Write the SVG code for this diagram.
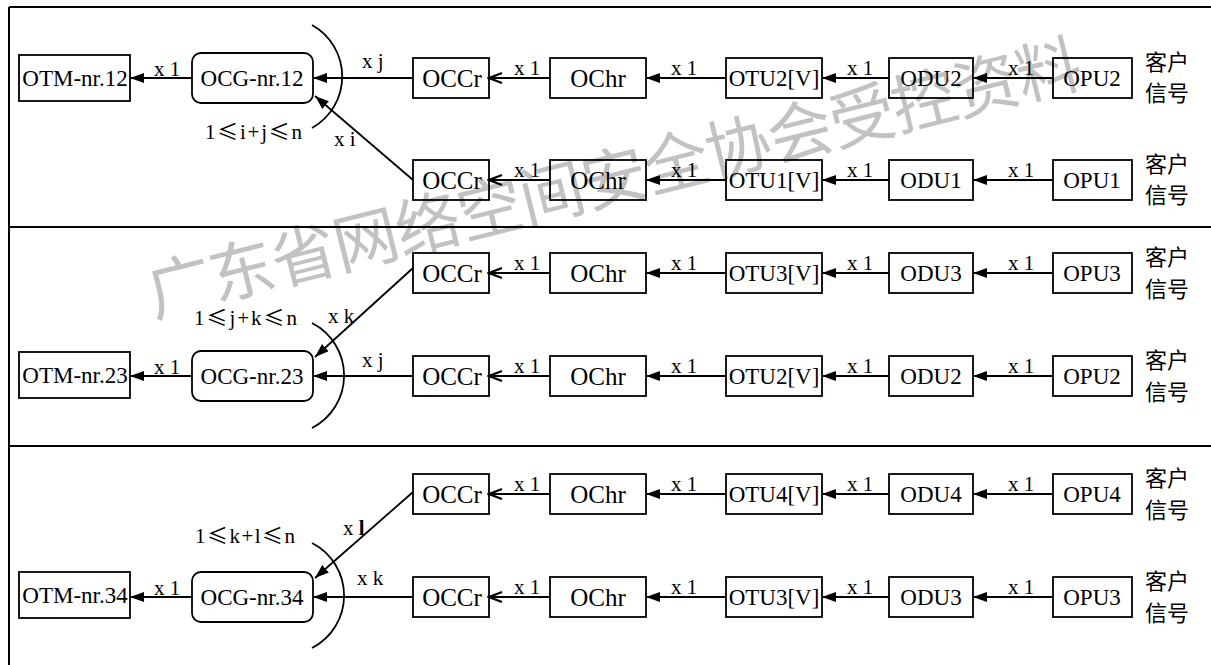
<svg xmlns="http://www.w3.org/2000/svg" width="1211" height="665" viewBox="0 0 1211 665">
<defs>
<marker id="fa" markerUnits="userSpaceOnUse" markerWidth="15" markerHeight="11" refX="14" refY="5" orient="auto"><path d="M0,0 L14,5 L0,10 z" fill="#000"/></marker>
<marker id="oa" markerUnits="userSpaceOnUse" markerWidth="16" markerHeight="13" refX="14" refY="6" orient="auto"><path d="M1,1 L14,6 L1,11" fill="none" stroke="#000" stroke-width="2.2"/></marker>
<style>
.frame{stroke:#000;stroke-width:2;fill:none}
.box{stroke:#000;stroke-width:1.8;fill:none}
.t{font-family:'Liberation Serif','Times New Roman',serif;font-size:23px;fill:#000;text-anchor:middle}
.w{font-size:25px}
.s{font-family:'Liberation Serif','Times New Roman',serif;font-size:21px;fill:#000}
.lb{font-family:'Liberation Serif','Times New Roman',serif;font-size:21px;fill:#000;text-anchor:middle}
.cn{font-family:'Noto Sans CJK SC','Noto Sans',sans-serif;font-size:22px;fill:#000;text-anchor:middle}
.le{font-family:'Noto Sans CJK SC',sans-serif}
.c{stroke:#000;stroke-width:1.8;fill:none}
.f{marker-end:url(#fa)}
.o{marker-end:url(#oa)}
.wm{font-family:'Noto Sans CJK SC',sans-serif;font-size:65px;fill:#c2c2c2}
</style>
</defs>
<rect width="1211" height="665" fill="#fff"/>
<text class="wm" x="154" y="317" transform="rotate(-14 154 317)" textLength="960" lengthAdjust="spacing">广东省网络空间安全协会受控资料</text>
<g id="frame">
<path class="frame" d="M9,7 H1211 M9,227 H1211 M9,446 H1211 M9,7 V665"/>
</g>
<g id="connectors">
<path class="c f" d="M1053,78 H973"/><path class="c f" d="M889,78 H822"/><path class="c f" d="M726,78 H646"/><path class="c o" d="M550,78 H489"/><path class="c f" d="M413,78 H313"/><path class="c f" d="M192,78 H130"/>
<path class="c f" d="M1053,180 H973"/><path class="c f" d="M889,180 H822"/><path class="c f" d="M726,180 H646"/><path class="c o" d="M550,180 H489"/><path class="c f" d="M413,180 L315,96"/>
<path class="c f" d="M1053,273 H973"/><path class="c f" d="M889,273 H822"/><path class="c f" d="M726,273 H646"/><path class="c o" d="M550,273 H489"/><path class="c f" d="M413,268 L315,357"/>
<path class="c f" d="M1053,376 H973"/><path class="c f" d="M889,376 H822"/><path class="c f" d="M726,376 H646"/><path class="c o" d="M550,376 H489"/><path class="c f" d="M413,376 H313"/><path class="c f" d="M192,376 H130"/>
<path class="c f" d="M1053,494 H973"/><path class="c f" d="M889,494 H822"/><path class="c f" d="M726,494 H646"/><path class="c o" d="M550,494 H489"/><path class="c f" d="M413,492 L315,578"/>
<path class="c f" d="M1053,597 H973"/><path class="c f" d="M889,597 H822"/><path class="c f" d="M726,597 H646"/><path class="c o" d="M550,597 H489"/><path class="c f" d="M413,597 H313"/><path class="c f" d="M192,597 H130"/>
<path class="c" d="M312,25 A59,59 0 0 1 312,128"/>
<path class="c" d="M312,323 A59,59 0 0 1 312,428"/>
<path class="c" d="M312,543 A59,59 0 0 1 312,648"/>
<g class="lb">
<text x="1021" y="75">x 1</text><text x="860" y="75">x 1</text><text x="684" y="75">x 1</text><text x="527" y="75">x 1</text><text x="167" y="76">x 1</text>
<text x="1021" y="177">x 1</text><text x="860" y="177">x 1</text><text x="684" y="177">x 1</text><text x="527" y="177">x 1</text>
<text x="1021" y="270">x 1</text><text x="860" y="270">x 1</text><text x="684" y="270">x 1</text><text x="527" y="270">x 1</text>
<text x="1021" y="373">x 1</text><text x="860" y="373">x 1</text><text x="684" y="373">x 1</text><text x="527" y="373">x 1</text><text x="167" y="374">x 1</text>
<text x="1021" y="491">x 1</text><text x="860" y="491">x 1</text><text x="684" y="491">x 1</text><text x="527" y="491">x 1</text>
<text x="1021" y="594">x 1</text><text x="860" y="594">x 1</text><text x="684" y="594">x 1</text><text x="527" y="594">x 1</text><text x="167" y="595">x 1</text>
</g>
<text class="s" x="362" y="68">x j</text>
<text class="s" x="334" y="146">x i</text>
<text class="s" x="205" y="139" font-size="22" textLength="97" lengthAdjust="spacing">1<tspan class="le">≤</tspan>i+j<tspan class="le">≤</tspan>n</text>
<text class="s" x="328" y="323">x k</text>
<text class="s" x="362" y="367">x j</text>
<text class="s" x="194" y="325" font-size="22" textLength="103" lengthAdjust="spacing">1<tspan class="le">≤</tspan>j+k<tspan class="le">≤</tspan>n</text>
<text class="s" x="343" y="535">x <tspan font-weight="bold">l</tspan></text>
<text class="s" x="357" y="585">x k</text>
<text class="s" x="195" y="543" font-size="22" textLength="100" lengthAdjust="spacing">1<tspan class="le">≤</tspan>k+l<tspan class="le">≤</tspan>n</text>
</g>
<g id="otm12"><rect class="box" x="19" y="55" width="111" height="46"/><text class="t" x="75" y="86" font-size="21">OTM-nr.12</text></g>
<g id="ocg12"><rect class="box" x="192" y="53" width="121" height="50" rx="9"/><text class="t" x="252" y="86" font-size="22">OCG-nr.12</text></g>
<g id="occr1a"><rect class="box" x="413" y="58" width="76" height="40"/><text class="t w" x="452" y="87">OCCr</text></g>
<g id="ochr1a"><rect class="box" x="550" y="58" width="96" height="40"/><text class="t w" x="598" y="87">OChr</text></g>
<g id="otu1a"><rect class="box" x="726" y="58" width="96" height="40"/><text class="t" x="774" y="86">OTU2[V]</text></g>
<g id="odu1a"><rect class="box" x="889" y="58" width="84" height="40"/><text class="t" x="931" y="86">ODU2</text></g>
<g id="opu1a"><rect class="box" x="1053" y="58" width="79" height="40"/><text class="t" x="1092" y="86">OPU2</text></g>
<g id="cs1a"><text class="cn" x="1167" y="70">客户</text><text class="cn" x="1167" y="101">信号</text></g>
<g id="occr1b"><rect class="box" x="413" y="160" width="76" height="40"/><text class="t w" x="452" y="189">OCCr</text></g>
<g id="ochr1b"><rect class="box" x="550" y="160" width="96" height="40"/><text class="t w" x="598" y="189">OChr</text></g>
<g id="otu1b"><rect class="box" x="726" y="160" width="96" height="40"/><text class="t" x="774" y="188">OTU1[V]</text></g>
<g id="odu1b"><rect class="box" x="889" y="160" width="84" height="40"/><text class="t" x="931" y="188">ODU1</text></g>
<g id="opu1b"><rect class="box" x="1053" y="160" width="79" height="40"/><text class="t" x="1092" y="188">OPU1</text></g>
<g id="cs1b"><text class="cn" x="1167" y="172">客户</text><text class="cn" x="1167" y="203">信号</text></g>
<g id="otm23"><rect class="box" x="19" y="352" width="111" height="46"/><text class="t" x="75" y="383" font-size="21">OTM-nr.23</text></g>
<g id="ocg23"><rect class="box" x="192" y="351" width="121" height="50" rx="9"/><text class="t" x="252" y="384" font-size="22">OCG-nr.23</text></g>
<g id="occr2a"><rect class="box" x="413" y="253" width="76" height="40"/><text class="t w" x="452" y="282">OCCr</text></g>
<g id="ochr2a"><rect class="box" x="550" y="253" width="96" height="40"/><text class="t w" x="598" y="282">OChr</text></g>
<g id="otu2a"><rect class="box" x="726" y="253" width="96" height="40"/><text class="t" x="774" y="281">OTU3[V]</text></g>
<g id="odu2a"><rect class="box" x="889" y="253" width="84" height="40"/><text class="t" x="931" y="281">ODU3</text></g>
<g id="opu2a"><rect class="box" x="1053" y="253" width="79" height="40"/><text class="t" x="1092" y="281">OPU3</text></g>
<g id="cs2a"><text class="cn" x="1167" y="265">客户</text><text class="cn" x="1167" y="297">信号</text></g>
<g id="occr2b"><rect class="box" x="413" y="356" width="76" height="40"/><text class="t w" x="452" y="385">OCCr</text></g>
<g id="ochr2b"><rect class="box" x="550" y="356" width="96" height="40"/><text class="t w" x="598" y="385">OChr</text></g>
<g id="otu2b"><rect class="box" x="726" y="356" width="96" height="40"/><text class="t" x="774" y="384">OTU2[V]</text></g>
<g id="odu2b"><rect class="box" x="889" y="356" width="84" height="40"/><text class="t" x="931" y="384">ODU2</text></g>
<g id="opu2b"><rect class="box" x="1053" y="356" width="79" height="40"/><text class="t" x="1092" y="384">OPU2</text></g>
<g id="cs2b"><text class="cn" x="1167" y="368">客户</text><text class="cn" x="1167" y="400">信号</text></g>
<g id="otm34"><rect class="box" x="19" y="572" width="111" height="46"/><text class="t" x="75" y="603" font-size="21">OTM-nr.34</text></g>
<g id="ocg34"><rect class="box" x="192" y="572" width="121" height="50" rx="9"/><text class="t" x="252" y="605" font-size="22">OCG-nr.34</text></g>
<g id="occr3a"><rect class="box" x="413" y="474" width="76" height="40"/><text class="t w" x="452" y="503">OCCr</text></g>
<g id="ochr3a"><rect class="box" x="550" y="474" width="96" height="40"/><text class="t w" x="598" y="503">OChr</text></g>
<g id="otu3a"><rect class="box" x="726" y="474" width="96" height="40"/><text class="t" x="774" y="502">OTU4[V]</text></g>
<g id="odu3a"><rect class="box" x="889" y="474" width="84" height="40"/><text class="t" x="931" y="502">ODU4</text></g>
<g id="opu3a"><rect class="box" x="1053" y="474" width="79" height="40"/><text class="t" x="1092" y="502">OPU4</text></g>
<g id="cs3a"><text class="cn" x="1167" y="486">客户</text><text class="cn" x="1167" y="518">信号</text></g>
<g id="occr3b"><rect class="box" x="413" y="577" width="76" height="40"/><text class="t w" x="452" y="606">OCCr</text></g>
<g id="ochr3b"><rect class="box" x="550" y="577" width="96" height="40"/><text class="t w" x="598" y="606">OChr</text></g>
<g id="otu3b"><rect class="box" x="726" y="577" width="96" height="40"/><text class="t" x="774" y="605">OTU3[V]</text></g>
<g id="odu3b"><rect class="box" x="889" y="577" width="84" height="40"/><text class="t" x="931" y="605">ODU3</text></g>
<g id="opu3b"><rect class="box" x="1053" y="577" width="79" height="40"/><text class="t" x="1092" y="605">OPU3</text></g>
<g id="cs3b"><text class="cn" x="1167" y="589">客户</text><text class="cn" x="1167" y="621">信号</text></g>
</svg>
